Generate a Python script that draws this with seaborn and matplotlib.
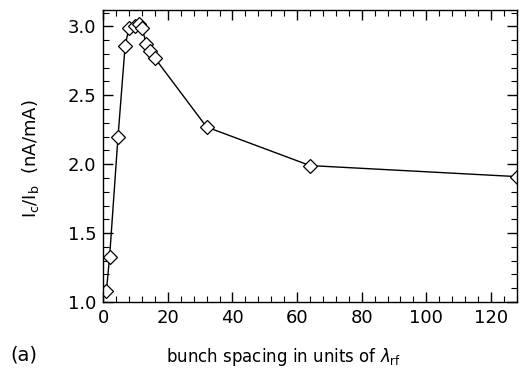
import numpy as np
import pandas as pd
import seaborn as sns
import matplotlib
matplotlib.use("Agg")
import matplotlib.pyplot as plt
from matplotlib.ticker import MultipleLocator, FormatStrFormatter

# bunch spacing (units of lambda_rf) and Ic/Ib ratio
spacing = [1, 2, 4.6, 6.8, 8, 10, 11.2, 12, 13.4, 14.6, 16, 32, 64, 128]
ratio = [1.08, 1.33, 2.20, 2.86, 2.99, 3.00, 3.02, 2.99, 2.87, 2.82, 2.77, 2.27, 1.99, 1.91]

df = pd.DataFrame({'spacing': spacing, 'ratio': ratio})

sns.set_style("ticks")
plt.rcParams['font.family'] = ['DejaVu Sans']
plt.rcParams['text.color'] = 'black'
plt.rcParams['axes.labelcolor'] = 'black'
plt.rcParams['xtick.color'] = 'black'
plt.rcParams['ytick.color'] = 'black'

fig = plt.figure(figsize=(5.21, 3.78), dpi=100)
ax = fig.add_axes([0.198, 0.201, 0.794, 0.773])

sns.lineplot(data=df, x='spacing', y='ratio', ax=ax, color='black', linewidth=1.0,
             marker='D', markersize=7.5, markerfacecolor='white', markeredgecolor='black',
             markeredgewidth=0.9, sort=False)

ax.set_xlim(0, 128)
ax.set_ylim(1.0, 3.12)
ax.xaxis.set_major_locator(MultipleLocator(20))
ax.xaxis.set_minor_locator(MultipleLocator(4))
ax.yaxis.set_major_locator(MultipleLocator(0.5))
ax.yaxis.set_minor_locator(MultipleLocator(0.1))
ax.yaxis.set_major_formatter(FormatStrFormatter('%.1f'))

ax.tick_params(which='both', direction='in', top=True, right=True)
ax.tick_params(which='major', length=7, width=1.0, labelsize=13, pad=5)
ax.tick_params(which='minor', length=4, width=0.8)
for s in ax.spines.values():
    s.set_linewidth(1.0)
    s.set_color('black')

ax.set_xlabel(r'bunch spacing in units of $\lambda_{\rm rf}$', fontsize=12)
ax.xaxis.set_label_coords(0.435, -0.15)
ax.set_ylabel(r'I$_{\rm c}$/I$_{\rm b}$  (nA/mA)', fontsize=13)
ax.yaxis.set_label_coords(-0.15, 0.49)
fig.text(0.02, 0.045, '(a)', fontsize=14)

fig.savefig('out.png', dpi=100)
